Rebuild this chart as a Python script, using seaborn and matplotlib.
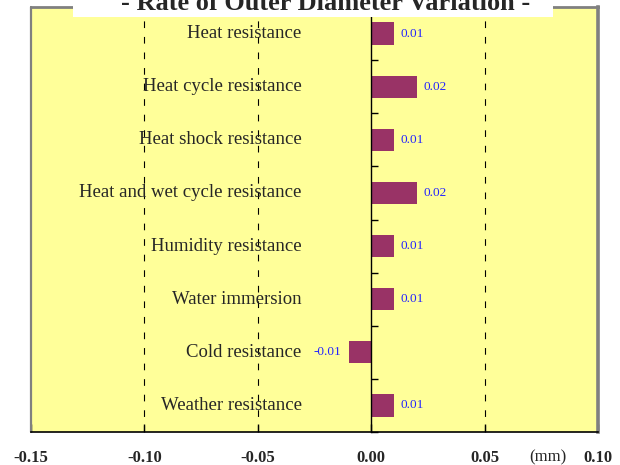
import pandas as pd
import matplotlib.pyplot as plt
import seaborn as sns
from matplotlib.patches import Rectangle
from matplotlib.ticker import FixedLocator

tests = ['Heat resistance', 'Heat cycle resistance', 'Heat shock resistance',
         'Heat and wet cycle resistance', 'Humidity resistance', 'Water immersion',
         'Cold resistance', 'Weather resistance']
variation = [0.01, 0.02, 0.01, 0.02, 0.01, 0.01, -0.01, 0.01]
x_ticks = [-0.15, -0.10, -0.05, 0.00, 0.05, 0.10]

df = pd.DataFrame({'test': tests, 'variation': variation})

sns.set_style('white')
plt.rcParams['font.family'] = ['Liberation Serif', 'DejaVu Serif']

fig = plt.figure(figsize=(6.2, 4.65), dpi=100)
ax = fig.add_axes([31 / 620, 1 - 432 / 465, (598 - 31) / 620, (432 - 7) / 465])
ax.set_facecolor('#FFFF99')

sns.barplot(x='variation', y='test', data=df, color='#993366', saturation=1,
            width=0.42, orient='h', ax=ax, zorder=3, linewidth=0)

ax.set_xlim(-0.15, 0.10)
ax.set_ylim(len(tests) - 0.5, -0.5)

# dashed grid lines
for gx in [-0.10, -0.05, 0.05]:
    ax.axvline(gx, color='black', lw=0.8, linestyle=(0, (6, 8)), zorder=1)

# frame: zero line is the y axis
ax.spines['left'].set_position(('data', 0))
ax.spines['left'].set_color('black')
ax.spines['left'].set_linewidth(1.0)
ax.spines['left'].set_zorder(4)
ax.axvline(-0.15, color='#808080', lw=1.6, zorder=5, clip_on=False)
ax.spines['top'].set_color('#808080')
ax.spines['top'].set_linewidth(2)
ax.spines['right'].set_color('#808080')
ax.spines['right'].set_linewidth(2.6)
ax.spines['bottom'].set_color('black')
ax.spines['bottom'].set_linewidth(1.2)
ax.spines['bottom'].set_zorder(6)

ax.set_yticks([])
ax.yaxis.set_minor_locator(FixedLocator([i + 0.5 for i in range(-1, len(tests))]))
ax.tick_params(axis='y', which='minor', direction='in', length=5, width=1,
               color='black', left=True)

ax.set_xticks(x_ticks)
ax.set_xticklabels([f'{t:.2f}' for t in x_ticks], fontsize=12, fontweight='bold')
ax.tick_params(axis='x', direction='in', length=6, width=1, color='black',
               bottom=True, pad=13)
ax.set_xlabel('')
ax.set_ylabel('')

# category names and value labels
for i, (name, v) in enumerate(zip(tests, variation)):
    ax.text(-0.0307, i, name, ha='right', va='center', fontsize=13.5, zorder=6)
    if v >= 0:
        ax.annotate(f'{v:.2f}', (v, i), xytext=(5, 0), textcoords='offset points',
                    ha='left', va='center', fontsize=9.5, color='#2424ff', zorder=6)
    else:
        ax.annotate(f'{v:.2f}', (v, i), xytext=(-5, 0), textcoords='offset points',
                    ha='right', va='center', fontsize=9.5, color='#2424ff', zorder=6)

fig.text(548 / 620, 1 - 457 / 465, '(mm)', ha='center', va='center', fontsize=12)

# title box, cut at the top edge as in the original
fig.patches.append(Rectangle((73 / 620, 1 - 17 / 465), (553 - 73) / 620, 17 / 465,
                             transform=fig.transFigure, facecolor='white',
                             edgecolor='none', zorder=5))
fig.text(326 / 620, 1 - 10 / 465, '- Rate of Outer Diameter Variation -',
         ha='center', va='baseline', fontsize=19, fontweight='bold', zorder=6)

fig.savefig('out.png', dpi=100)
plt.close()
